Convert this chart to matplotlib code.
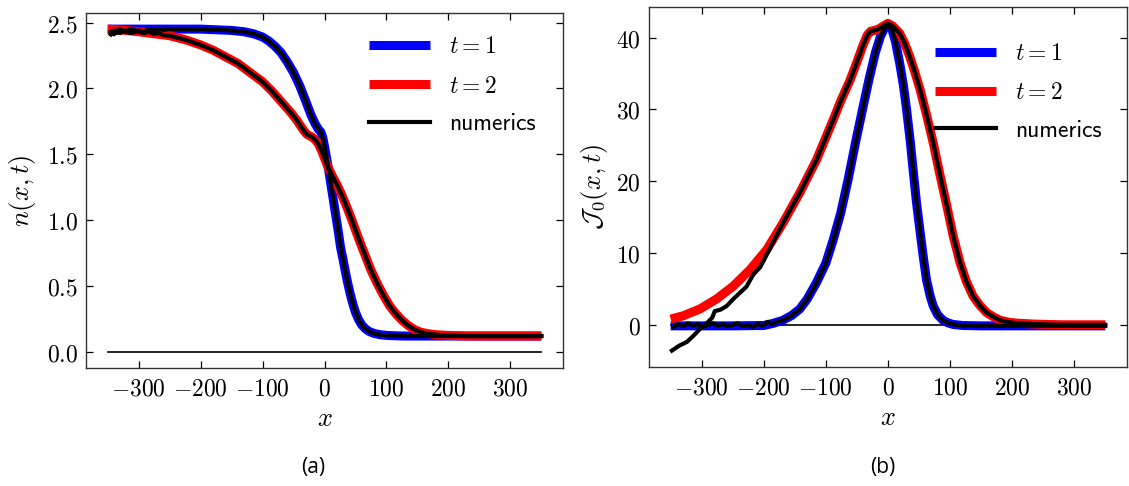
import matplotlib
matplotlib.use("Agg")
import matplotlib.pyplot as plt
from matplotlib.ticker import FuncFormatter

plt.rcParams["mathtext.fontset"] = "cm"

# ---- panel (a): density n(x, t) ----
n1_x = [-350, -300, -250, -200, -175, -150, -130, -115, -100, -90, -80, -70, -60, -50,
        -40, -30, -22, -15, -10, -6, -3, 0, 3, 6, 10, 14, 18, 22, 26, 30, 34, 38, 42,
        46, 50, 55, 60, 66, 72, 80, 90, 100, 115, 130, 150, 200, 250, 300, 350]
n1_y = [2.45, 2.45, 2.45, 2.45, 2.445, 2.44, 2.43, 2.415, 2.39, 2.36, 2.32, 2.27, 2.20,
        2.12, 2.02, 1.90, 1.80, 1.73, 1.69, 1.67, 1.63, 1.56, 1.48, 1.40, 1.28, 1.16,
        1.04, 0.92, 0.79, 0.70, 0.60, 0.51, 0.43, 0.36, 0.30, 0.245, 0.205, 0.175,
        0.155, 0.14, 0.13, 0.125, 0.122, 0.12, 0.12, 0.12, 0.12, 0.12, 0.12]

n2_x = [-350, -320, -300, -275, -250, -225, -200, -180, -160, -140, -120, -100, -85, -70,
        -55, -45, -38, -32, -28, -24, -20, -15, -10, -5, 0, 5, 12, 20, 28, 36, 45, 55,
        65, 75, 85, 95, 105, 115, 125, 135, 145, 155, 165, 180, 200, 230, 260, 300, 350]
n2_y = [2.45, 2.44, 2.43, 2.415, 2.40, 2.37, 2.33, 2.29, 2.24, 2.19, 2.12, 2.05, 1.98,
        1.90, 1.82, 1.76, 1.71, 1.67, 1.65, 1.64, 1.63, 1.61, 1.58, 1.53, 1.47, 1.41,
        1.34, 1.27, 1.19, 1.10, 0.99, 0.86, 0.74, 0.62, 0.52, 0.43, 0.35, 0.29, 0.24,
        0.20, 0.17, 0.15, 0.14, 0.13, 0.125, 0.12, 0.12, 0.12, 0.12]

# numerics: noisy left end, theory curve afterwards
n1_head_x = [-345, -340, -335, -330, -325, -320, -315, -310, -305, -300, -292, -284,
             -276, -268, -260]
n1_head_y = [2.41, 2.44, 2.42, 2.45, 2.43, 2.44, 2.42, 2.45, 2.43, 2.44, 2.43, 2.45,
             2.44, 2.45, 2.445]
n2_head_x = [-345, -340, -335, -330, -325, -320, -315, -310, -305, -300, -292, -284,
             -276, -268, -260]
n2_head_y = [2.43, 2.41, 2.44, 2.42, 2.44, 2.43, 2.45, 2.42, 2.44, 2.43, 2.42, 2.43,
             2.415, 2.42, 2.405]

# ---- panel (b): current J_0(x, t) ----
j1_x = [-350, -300, -250, -200, -185, -170, -155, -142, -130, -115, -100, -88, -76, -64,
        -52, -40, -30, -20, -12, -6, 0, 6, 12, 19, 25, 30, 36, 41, 46, 52, 57, 62, 68,
        73, 80, 89, 97, 105, 120, 150, 200, 350]
j1_y = [-0.15, -0.15, -0.15, -0.1, 0.2, 0.6, 1.3, 2.2, 3.6, 5.9, 8.6, 11.9, 15.6, 20.3,
        25.5, 30.4, 34.4, 38.0, 40.2, 41.2, 41.6, 41.3, 39.5, 36.4, 33.3, 30.0, 25.5,
        21.2, 17.0, 12.8, 9.4, 6.3, 4.0, 2.6, 1.4, 0.6, 0.25, 0.05, -0.1, -0.15, -0.15,
        -0.15]

j2_x = [-350, -330, -303, -276, -249, -222, -195, -169, -142, -115, -88, -75, -61, -50,
        -40, -33, -28, -22, -15, -8, 0, 8, 19, 27, 35, 43, 52, 62, 73, 84, 95, 105, 116,
        126, 137, 148, 159, 170, 180, 195, 207, 234, 280, 350]
j2_y = [0.8, 1.25, 2.2, 3.6, 5.4, 7.7, 10.5, 14.2, 18.4, 23.0, 28.6, 31.4, 34.1, 36.6,
        39.0, 40.4, 40.9, 41.0, 41.2, 41.6, 42.0, 41.6, 40.6, 39.2, 37.4, 35.3, 32.7,
        29.3, 25.3, 20.8, 16.5, 12.4, 8.7, 6.1, 4.0, 2.7, 1.7, 1.1, 0.65, 0.35, 0.23,
        0.1, 0.0, 0.0]

j1_head_x = [-345, -338, -330, -322, -314, -306, -298, -290, -282, -274, -266, -258,
             -250, -242, -234, -226, -218, -210, -202, -194, -186, -178]
j1_head_y = [-0.3, 0.1, -0.2, 0.2, -0.1, 0.1, -0.3, 0.0, 0.2, -0.1, 0.1, -0.2, 0.0,
             0.2, -0.2, 0.0, -0.3, 0.1, -0.1, 0.4, 0.1, 0.5]
j2_head_x = [-348, -336, -324, -313, -303, -292, -283, -279, -270, -260, -249, -238,
             -228, -217, -206, -195, -182]
j2_head_y = [-3.6, -2.9, -2.4, -1.5, -0.6, 0.2, 1.0, 1.9, 2.1, 2.6, 3.6, 4.5, 5.3, 7.0,
             8.0, 9.8, 12.0]

base_x = [-350, 350]
base_y = [0, 0]


def join(hx, hy, tx, ty):
    xs, ys = list(hx), list(hy)
    for x, y in zip(tx, ty):
        if x > hx[-1]:
            xs.append(x)
            ys.append(y)
    return xs, ys


def math_fmt(fmt):
    return FuncFormatter(lambda v, pos: "$" + (fmt % v) + "$")


def style(ax, yfmt):
    ax.tick_params(direction="in", top=True, right=True, labelsize=17, length=5,
                   width=0.9, pad=6)
    for s in ax.spines.values():
        s.set_linewidth(1.0)
        s.set_color("#333333")
    ax.set_xticks([-300, -200, -100, 0, 100, 200, 300])
    ax.xaxis.set_major_formatter(math_fmt("%g"))
    ax.yaxis.set_major_formatter(math_fmt(yfmt))
    ax.set_xlabel("$x$", fontsize=19, labelpad=4)


def draw(ax, c1, c2, n1, n2):
    ax.plot(base_x, base_y, color="black", lw=1.2)
    ax.plot(*c1, color="blue", lw=6.5, label="$t=1$", solid_capstyle="butt")
    ax.plot(*c2, color="red", lw=6.5, label="$t=2$", solid_capstyle="butt")
    ax.plot(*n1, color="black", lw=3, label="numerics")
    ax.plot(*n2, color="black", lw=3)


fig = plt.figure(figsize=(11.29, 4.86), dpi=100)
ax1 = fig.add_axes([0.0762, 0.2428, 0.4225, 0.7305])
ax2 = fig.add_axes([0.5748, 0.2449, 0.4234, 0.7407])

draw(ax1, (n1_x, n1_y), (n2_x, n2_y),
     join(n1_head_x, n1_head_y, n1_x, n1_y), join(n2_head_x, n2_head_y, n2_x, n2_y))
ax1.set_yticks([0.0, 0.5, 1.0, 1.5, 2.0, 2.5])
style(ax1, "%.1f")
ax1.set_ylabel("$n(x,t)$", fontsize=19, labelpad=6)

draw(ax2, (j1_x, j1_y), (j2_x, j2_y),
     join(j1_head_x, j1_head_y, j1_x, j1_y), join(j2_head_x, j2_head_y, j2_x, j2_y))
ax2.set_yticks([0, 10, 20, 30, 40])
style(ax2, "%g")
ax2.set_ylabel(r"$\mathcal{J}_0(x,t)$", fontsize=19, labelpad=4)

for ax, anchor in ((ax1, (0.548, 1.0)), (ax2, (0.553, 0.965))):
    leg = ax.legend(loc="upper left", bbox_to_anchor=anchor, frameon=False,
                    fontsize=17, handlelength=2.6, handletextpad=0.8, labelspacing=0.65)
    leg.get_texts()[2].set_fontfamily("cmss10")

fig.text(0.277, 0.039, "(a)", fontsize=15, family="Open Sans", ha="center", va="center")
fig.text(0.782, 0.039, "(b)", fontsize=15, family="Open Sans", ha="center", va="center")

fig.savefig("out.png", dpi=100)
